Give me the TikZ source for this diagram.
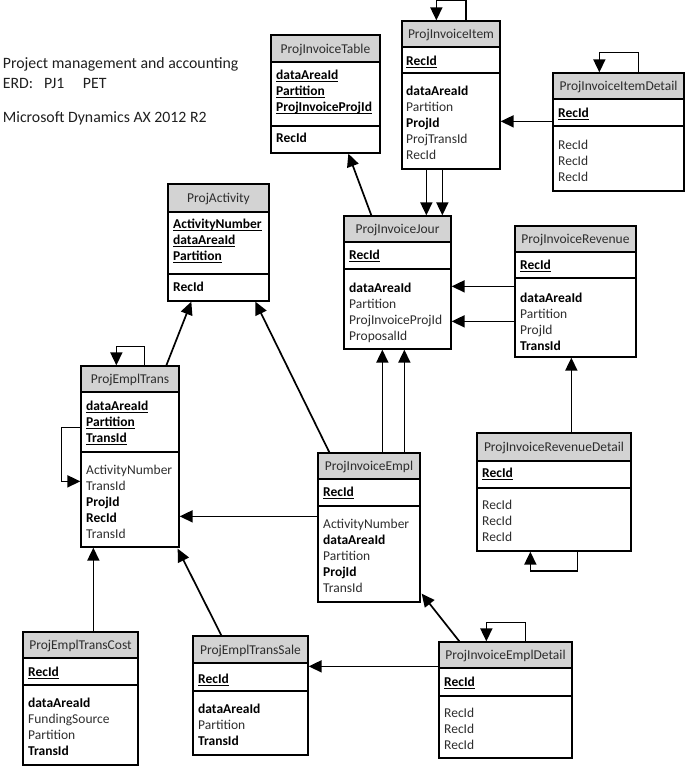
\documentclass[tikz,border=0pt]{standalone}
\usepackage{fontspec}
\setmainfont{Carlito}
\usetikzlibrary{arrows.meta,fit}
\definecolor{hdrgray}{RGB}{211,211,211}
\definecolor{txtgray}{RGB}{45,45,45}
\tikzset{
  boxline/.style={line width=1.3pt},
  conn/.style={line width=1.7pt, -{Triangle[length=13pt,width=12pt]}},
  hdrtext/.style={font=\fontsize{13.5}{16}\selectfont, text=txtgray, anchor=base, inner sep=0pt},
  rowtext/.style={font=\fontsize{13.5}{16}\selectfont, text=txtgray, anchor=base west, inner sep=0pt},
  titletext/.style={font=\fontsize{15.8}{18}\selectfont, text=black!88, anchor=base west, inner sep=0pt},
}
\newcommand\bfk[1]{\textcolor{black}{\textbf{#1}}}
\newcommand\ulk[1]{\textcolor{black}{\setbox0\hbox{\bfseries #1}\rlap{\rule[-2.6pt]{\wd0}{1pt}}\box0}}
% name, title, l, t, r, b, header bottom, divider
\newcommand\erbox[8]{%
  \fill[hdrgray] (#3,#4) rectangle (#5,#7);
  \draw[boxline] (#3,#7) -- (#5,#7) (#3,#8) -- (#5,#8);
  \node[boxline, draw, fit={(#3,#4) (#5,#6)}, inner sep=0pt] (#1) {};
  \node[hdrtext] (#1-h) at ({(#3+#5)/2},{(#4+#7)/2+4.5}) {#2};
}
% name, x, first baseline, list
\newcommand\rows[4]{%
  \foreach \rtxt [count=\ri] in {#4}
    \node[rowtext] (#1-\ri) at (#2,{#3+16*(\ri-1)}) {\rtxt};
}
\begin{document}
\begin{tikzpicture}[x=1pt,y=-1pt]
\useasboundingbox (0,0) rectangle (686,766);

% title
\node[titletext] (t1) at (2.7,68.5) {Project management and accounting};
\node[titletext] (t2) at (2.7,88.5) {\makebox[41.3pt][l]{ERD:}\makebox[38.7pt][l]{PJ1}PET};
\node[titletext] (t3) at (2.7,122) {Microsoft Dynamics AX 2012 R2};

% boxes
\erbox{tbl}{ProjInvoiceTable}{271}{35}{380}{153}{62}{126}
\rows{tblk}{276}{79.5}{\ulk{dataAreaId},\ulk{Partition},\ulk{ProjInvoiceProjId}}
\rows{tbla}{276}{142.8}{\bfk{RecId}}

\erbox{item}{ProjInvoiceItem}{402}{21}{500}{169}{47}{73}
\rows{itemk}{406}{65.5}{\ulk{RecId}}
\rows{itema}{406}{95.5}{\bfk{dataAreaId},Partition,\bfk{ProjId},ProjTransId,RecId}

\erbox{itemd}{ProjInvoiceItemDetail}{553}{73}{684}{191}{99}{126}
\rows{itemdk}{558}{117.2}{\ulk{RecId}}
\rows{itemda}{558}{149.5}{RecId,RecId,RecId}

\erbox{act}{ProjActivity}{168}{184}{269}{301}{212}{274}
\rows{actk}{173}{228.5}{\ulk{ActivityNumber},\ulk{dataAreaId},\ulk{Partition}}
\rows{acta}{173}{291.5}{\bfk{RecId}}

\erbox{jour}{ProjInvoiceJour}{344}{216}{451}{349}{242}{269}
\rows{jourk}{349}{259.5}{\ulk{RecId}}
\rows{joura}{349}{292.5}{\bfk{dataAreaId},Partition,ProjInvoiceProjId,ProposalId}

\erbox{rev}{ProjInvoiceRevenue}{515}{226}{636}{357}{252}{278}
\rows{revk}{520}{269.5}{\ulk{RecId}}
\rows{reva}{520}{302}{\bfk{dataAreaId},Partition,ProjId,\bfk{TransId}}

\erbox{et}{ProjEmplTrans}{81}{366}{179}{547}{392}{452}
\rows{etk}{86}{410}{\ulk{dataAreaId},\ulk{Partition},\ulk{TransId}}
\rows{eta}{86}{474.5}{ActivityNumber,TransId,\bfk{ProjId},\bfk{RecId},TransId}

\erbox{ie}{ProjInvoiceEmpl}{318}{453}{420}{602}{479}{506}
\rows{iek}{323}{496.5}{\ulk{RecId}}
\rows{iea}{323}{528.5}{ActivityNumber,\bfk{dataAreaId},Partition,\bfk{ProjId},TransId}

\erbox{rd}{ProjInvoiceRevenueDetail}{477}{433}{631}{551}{461}{488}
\rows{rdk}{482}{477.5}{\ulk{RecId}}
\rows{rda}{482}{509.5}{RecId,RecId,RecId}

\erbox{etc}{ProjEmplTransCost}{23}{632}{138}{765}{658}{685}
\rows{etck}{28}{676.5}{\ulk{RecId}}
\rows{etca}{28}{707.5}{\bfk{dataAreaId},FundingSource,Partition,\bfk{TransId}}

\erbox{ets}{ProjEmplTransSale}{193}{636}{308}{755}{663}{691}
\rows{etsk}{198}{683.5}{\ulk{RecId}}
\rows{etsa}{198}{713.5}{\bfk{dataAreaId},Partition,\bfk{TransId}}

\erbox{ied}{ProjInvoiceEmplDetail}{439}{642}{572}{758}{668}{696}
\rows{iedk}{444}{686.5}{\ulk{RecId}}
\rows{ieda}{444}{717.5}{RecId,RecId,RecId}

% connectors
\draw[conn] ([shift={(64.5,0)}]item.north west) -- ++(0,-20) -| ([shift={(35,0)}]item.north west);
\draw[conn] ([shift={(86,0)}]itemd.north west) -- ++(0,-20) -| ([shift={(47,0)}]itemd.north west);
\draw[conn] ([shift={(0,49)}]itemd.north west) -- ([shift={(0,101)}]item.north east);
\draw[conn] ([shift={(28,0)}]jour.north west) -- ([shift={(78,0)}]tbl.south west);
\draw[conn] ([shift={(25,0)}]item.south west) -- ([shift={(83,0)}]jour.north west);
\draw[conn] ([shift={(41,0)}]item.south west) -- ([shift={(99,0)}]jour.north west);
\draw[conn] ([shift={(0,61)}]rev.north west) -- ([shift={(0,71)}]jour.north east);
\draw[conn] ([shift={(0,96)}]rev.north west) -- ([shift={(0,106)}]jour.north east);
\draw[conn] ([shift={(65,0)}]ie.north west) -- ([shift={(39,0)}]jour.south west);
\draw[conn] ([shift={(87,0)}]ie.north west) -- ([shift={(61,0)}]jour.south west);
\draw[conn] ([shift={(95,0)}]rd.north west) -- ([shift={(57,0)}]rev.south west);
\draw[conn] ([shift={(101,0)}]rd.south west) -- ++(0,19) -| ([shift={(54,0)}]rd.south west);
\draw[conn] ([shift={(86,0)}]et.north west) -- ([shift={(24,0)}]act.south west);
\draw[conn] ([shift={(12,0)}]ie.north west) -- ([shift={(88,0)}]act.south west);
\draw[conn] ([shift={(64,0)}]et.north west) -- ++(0,-19) -| ([shift={(36,0)}]et.north west);
\draw[conn] ([shift={(0,62)}]et.north west) -- ++(-19,0) |- ([shift={(0,116)}]et.north west);
\draw[conn] ([shift={(0,64)}]ie.north west) -- ([shift={(0,151)}]et.north east);
\draw[conn] ([shift={(71,0)}]etc.north west) -- ([shift={(13,0)}]et.south west);
\draw[conn] ([shift={(29,0)}]ets.north west) -- ([shift={(-2,1)}]et.south east);
\draw[conn] ([shift={(21,0)}]ied.north west) -- ([shift={(1,-9)}]ie.south east);
\draw[conn] ([shift={(87,0)}]ied.north west) -- ++(0,-19) -| ([shift={(48,0)}]ied.north west);
\draw[conn] ([shift={(0,25)}]ied.north west) -- ([shift={(0,31)}]ets.north east);
\end{tikzpicture}
\end{document}
